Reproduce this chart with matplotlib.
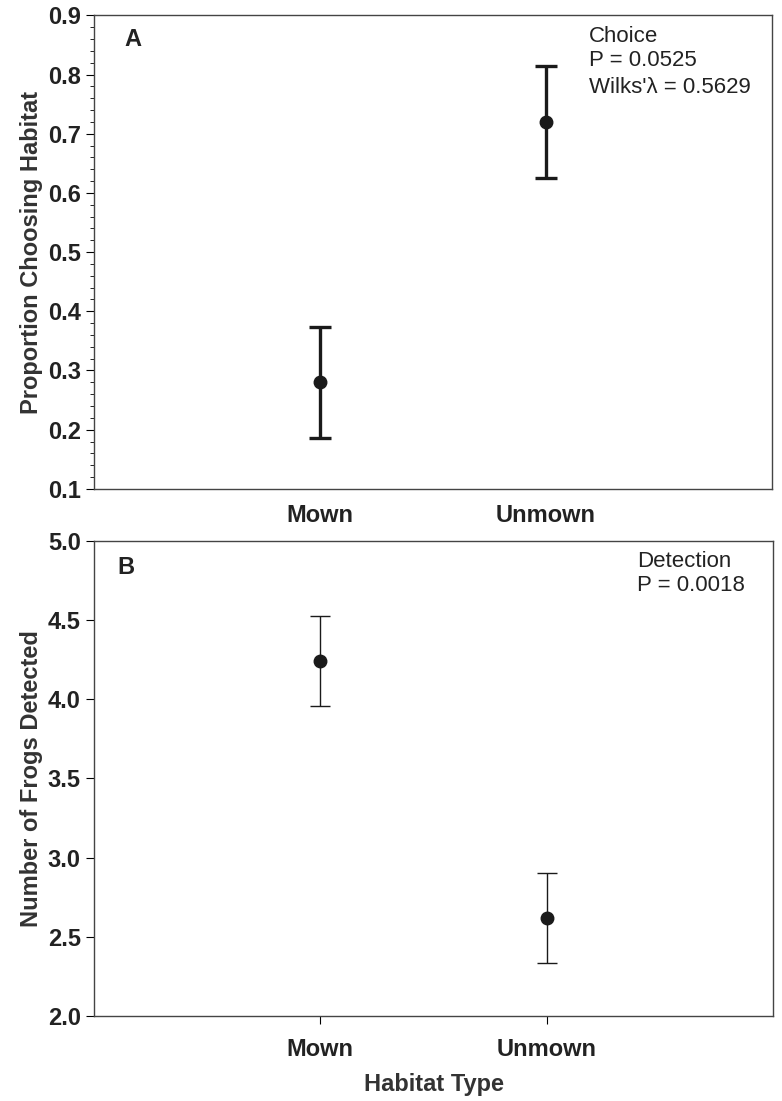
import matplotlib
matplotlib.use("Agg")
import matplotlib.pyplot as plt
from matplotlib.ticker import MultipleLocator, FormatStrFormatter

plt.rcParams['font.family'] = ['Liberation Sans', 'DejaVu Sans']

habitats = ['Mown', 'Unmown']
positions = [1, 2]

# panel A: proportion choosing habitat
choice_mean = [0.28, 0.72]
choice_err = [0.094, 0.094]

# panel B: number of frogs detected
detect_mean = [4.24, 2.62]
detect_err = [0.285, 0.285]

txt = '#222222'
fig = plt.figure(figsize=(7.82, 11.01), dpi=100)
ax1 = fig.add_axes([0.120, 0.556, 0.867, 0.430])
ax2 = fig.add_axes([0.120, 0.077, 0.869, 0.432])

# --- A ---
ax1.errorbar(positions, choice_mean, yerr=choice_err, fmt='o', color='#1a1a1a',
             ms=9, elinewidth=2.4, capsize=8, capthick=2.4)
ax1.set_xlim(0, 3)
ax1.set_ylim(0.1, 0.9)
ax1.yaxis.set_major_locator(MultipleLocator(0.1))
ax1.yaxis.set_minor_locator(MultipleLocator(0.02))
ax1.set_xticks(positions)
ax1.set_xticklabels(habitats, fontweight='bold')
ax1.tick_params(axis='x', length=0, labelsize=17, pad=11, labelcolor=txt)
ax1.tick_params(axis='y', which='major', direction='out', length=6, labelsize=17, labelcolor=txt)
ax1.tick_params(axis='y', which='minor', direction='out', length=3)
for lb in ax1.get_yticklabels():
    lb.set_fontweight('bold')
ax1.set_ylabel('Proportion Choosing Habitat', fontsize=17, fontweight='bold', color='#333333', labelpad=3)
ax1.text(0.045, 0.935, 'A', transform=ax1.transAxes, fontsize=17, fontweight='bold', color=txt)
ax1.text(0.73, 0.955, 'Choice', transform=ax1.transAxes, fontsize=16, color=txt, va='center')
ax1.text(0.73, 0.905, 'P = 0.0525', transform=ax1.transAxes, fontsize=16, color=txt, va='center')
ax1.text(0.73, 0.848, "Wilks'\u03bb = 0.5629", transform=ax1.transAxes, fontsize=16, color=txt, va='center')

# --- B ---
ax2.errorbar(positions, detect_mean, yerr=detect_err, fmt='o', color='#1a1a1a',
             ms=9, elinewidth=1.0, capsize=7, capthick=1.0)
ax2.set_xlim(0, 3)
ax2.set_ylim(2.0, 5.0)
ax2.yaxis.set_major_locator(MultipleLocator(0.5))
ax2.yaxis.set_major_formatter(FormatStrFormatter('%.1f'))
ax2.set_xticks(positions)
ax2.set_xticklabels(habitats, fontweight='bold')
ax2.tick_params(axis='x', direction='out', length=6, labelsize=17, pad=10, labelcolor=txt)
ax2.tick_params(axis='y', direction='out', length=6, labelsize=17, labelcolor=txt)
for lb in ax2.get_yticklabels():
    lb.set_fontweight('bold')
ax2.set_ylabel('Number of Frogs Detected', fontsize=17, fontweight='bold', color='#333333', labelpad=3)
ax2.set_xlabel('Habitat Type', fontsize=17, fontweight='bold', color='#333333', labelpad=8)
ax2.text(0.035, 0.93, 'B', transform=ax2.transAxes, fontsize=17, fontweight='bold', color=txt)
ax2.text(0.8, 0.955, 'Detection', transform=ax2.transAxes, fontsize=16, color=txt, va='center')
ax2.text(0.8, 0.905, 'P = 0.0018', transform=ax2.transAxes, fontsize=16, color=txt, va='center')

for ax in (ax1, ax2):
    for sp in ax.spines.values():
        sp.set_color('#444444')
        sp.set_linewidth(1.0)

fig.savefig('out.png', dpi=100)
